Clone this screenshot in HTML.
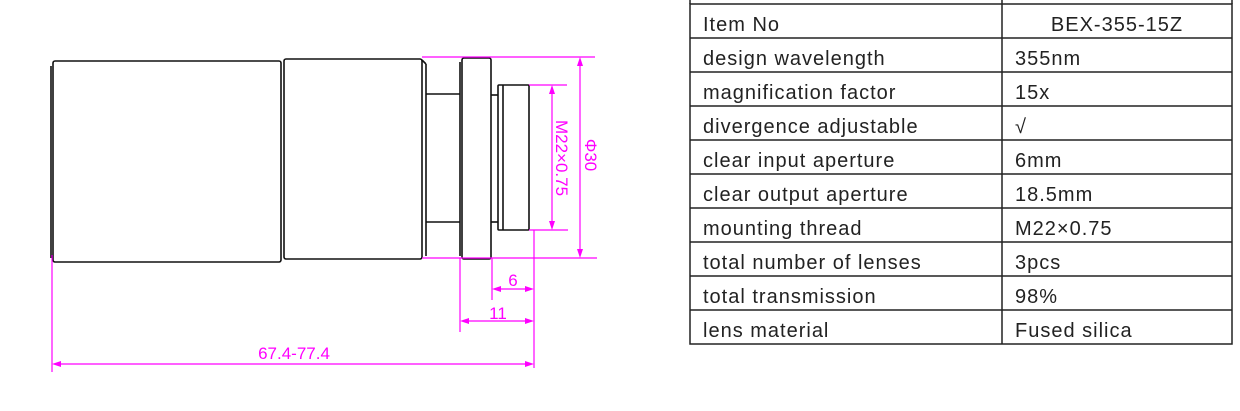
<!DOCTYPE html>
<html><head><meta charset="utf-8"><style>
html,body{margin:0;padding:0;background:#fff;}
svg{display:block;}
text{font-family:"Liberation Sans",sans-serif;}
</style></head><body>
<svg width="1240" height="411" viewBox="0 0 1240 411" xmlns="http://www.w3.org/2000/svg">
<g stroke="#111" stroke-width="1.6" fill="none">
<rect x="53" y="61" width="228" height="201" rx="2"/>
<line x1="51" y1="66" x2="51" y2="258"/>
<rect x="284" y="59" width="138" height="200" rx="2"/>
<line x1="422" y1="60" x2="426" y2="64"/><line x1="426" y1="64" x2="426" y2="256"/>
<line x1="426" y1="94" x2="460" y2="94"/><line x1="426" y1="222" x2="460" y2="222"/>
<rect x="462" y="58" width="29" height="201" rx="2"/>
<line x1="460" y1="62" x2="460" y2="256"/>
<line x1="491" y1="95" x2="498" y2="95"/><line x1="491" y1="222" x2="498" y2="222"/>
<rect x="498" y="85" width="31" height="145" rx="1"/>
<line x1="503" y1="85" x2="503" y2="230"/>
</g>
<g stroke="#ff00ff" stroke-width="1.2" fill="none">
<line x1="422" y1="57" x2="595" y2="57"/>
<line x1="422" y1="258" x2="597" y2="258"/>
<line x1="580" y1="60" x2="580" y2="255"/>
<line x1="529" y1="85" x2="567" y2="85"/>
<line x1="529" y1="230" x2="568" y2="230"/>
<line x1="552" y1="88" x2="552" y2="227"/>
<line x1="52" y1="255" x2="52" y2="372"/>
<line x1="534" y1="230" x2="534" y2="368"/>
<line x1="460" y1="258" x2="460" y2="332"/>
<line x1="492" y1="258" x2="492" y2="300"/>
<line x1="495" y1="289" x2="531" y2="289"/>
<line x1="463" y1="321" x2="531" y2="321"/>
<line x1="55" y1="364" x2="531" y2="364"/>
</g>
<g fill="#ff00ff">
<path d="M580,57 l-3,9 h6z"/><path d="M580,258 l-3,-9 h6z"/>
<path d="M552,85 l-3,9 h6z"/><path d="M552,230 l-3,-9 h6z"/>
<path d="M492,289 l9,-3 v6z"/><path d="M534,289 l-9,-3 v6z"/>
<path d="M460,321 l9,-3 v6z"/><path d="M534,321 l-9,-3 v6z"/>
<path d="M52,364 l9,-3 v6z"/><path d="M534,364 l-9,-3 v6z"/>
<text x="513" y="286" font-size="17" text-anchor="middle">6</text>
<text x="498" y="319" font-size="17" text-anchor="middle">11</text>
<text x="294" y="359" font-size="17" text-anchor="middle">67.4-77.4</text>
<text transform="translate(556,158) rotate(90)" font-size="17" text-anchor="middle">M22×0.75</text>
<text transform="translate(585,155) rotate(90)" font-size="17" text-anchor="middle">Φ30</text>
</g>
<g stroke="#222" stroke-width="1.5" fill="none">
<rect x="690" y="4" width="542" height="340"/>
<line x1="690" y1="0" x2="690" y2="4"/><line x1="1232" y1="0" x2="1232" y2="4"/><line x1="1002" y1="0" x2="1002" y2="344"/>
<line x1="690" y1="38" x2="1232" y2="38"/><line x1="690" y1="72" x2="1232" y2="72"/>
<line x1="690" y1="106" x2="1232" y2="106"/><line x1="690" y1="140" x2="1232" y2="140"/>
<line x1="690" y1="174" x2="1232" y2="174"/><line x1="690" y1="208" x2="1232" y2="208"/>
<line x1="690" y1="242" x2="1232" y2="242"/><line x1="690" y1="276" x2="1232" y2="276"/>
<line x1="690" y1="310" x2="1232" y2="310"/>
</g>
<g fill="#222" font-size="20" letter-spacing="1">
<text x="703" y="31">Item No</text><text x="1117" y="31" text-anchor="middle">BEX-355-15Z</text>
<text x="703" y="65">design wavelength</text><text x="1015" y="65">355nm</text>
<text x="703" y="99">magnification factor</text><text x="1015" y="99">15x</text>
<text x="703" y="133">divergence adjustable</text><text x="1015" y="133">√</text>
<text x="703" y="167">clear input aperture</text><text x="1015" y="167">6mm</text>
<text x="703" y="201">clear output aperture</text><text x="1015" y="201">18.5mm</text>
<text x="703" y="235">mounting thread</text><text x="1015" y="235">M22×0.75</text>
<text x="703" y="269">total number of lenses</text><text x="1015" y="269">3pcs</text>
<text x="703" y="303">total transmission</text><text x="1015" y="303">98%</text>
<text x="703" y="337">lens material</text><text x="1015" y="337">Fused silica</text>
</g>
</svg>
</body></html>
